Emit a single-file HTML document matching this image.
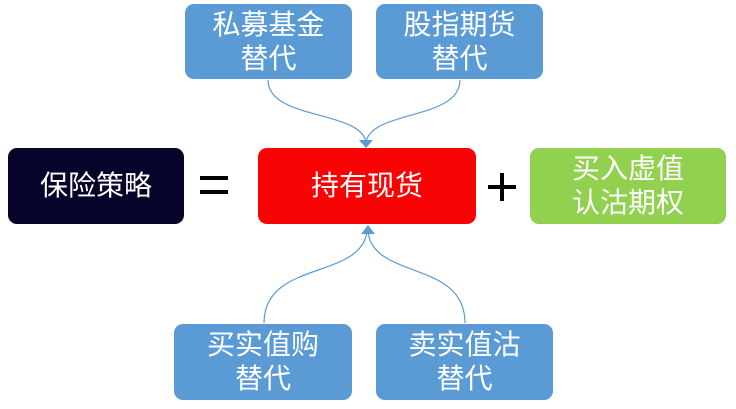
<!DOCTYPE html>
<html><head><meta charset="utf-8"><style>
body{margin:0;width:736px;height:409px;background:#fff;position:relative;overflow:hidden;font-family:"Liberation Sans","Noto Sans CJK SC",sans-serif}
.b{position:absolute;border-radius:9px;color:#fff;display:flex;align-items:center;justify-content:center;text-align:center;font-size:28px;line-height:34px}
.bl{background:#5b9bd5}
.r{position:absolute;background:#000}
</style></head><body>
<svg width="736" height="409" style="position:absolute;left:0;top:0">
<g fill="none" stroke="#5b9bd5" stroke-width="1.2">
<path d="M268 80 C268 120 360 110 366 142"/>
<path d="M460 80 C460 120 372 110 366 142"/>
<path d="M264 323 C264 260 360 280 367 232"/>
<path d="M465 323 C465 260 374 280 368 232"/>
</g>
<polygon points="359,140 373,140 366,148" fill="#5b9bd5"/>
<polygon points="361,234 375,234 368,225" fill="#5b9bd5"/>
</svg>
<div class="b bl" style="left:185px;top:4px;width:167px;height:75px">私募基金<br>替代</div>
<div class="b bl" style="left:376px;top:4px;width:167px;height:75px">股指期货<br>替代</div>
<div class="b" style="left:8px;top:148px;width:176px;height:76px;background:#06042a">保险策略</div>
<div class="b" style="left:258px;top:148px;width:218px;height:76px;background:#f80404">持有现货</div>
<div class="b" style="left:530px;top:148px;width:196px;height:76px;background:#92d050">买入虚值<br>认沽期权</div>
<div class="b bl" style="left:174px;top:324px;width:178px;height:76px">买实值购<br>替代</div>
<div class="b bl" style="left:376px;top:324px;width:177px;height:76px">卖实值沽<br>替代</div>
<div class="r" style="left:200px;top:176px;width:28px;height:4px"></div>
<div class="r" style="left:200px;top:190px;width:28px;height:4px"></div>
<div class="r" style="left:488px;top:185px;width:28px;height:4px"></div>
<div class="r" style="left:500px;top:173px;width:4px;height:28px"></div>
</body></html>
